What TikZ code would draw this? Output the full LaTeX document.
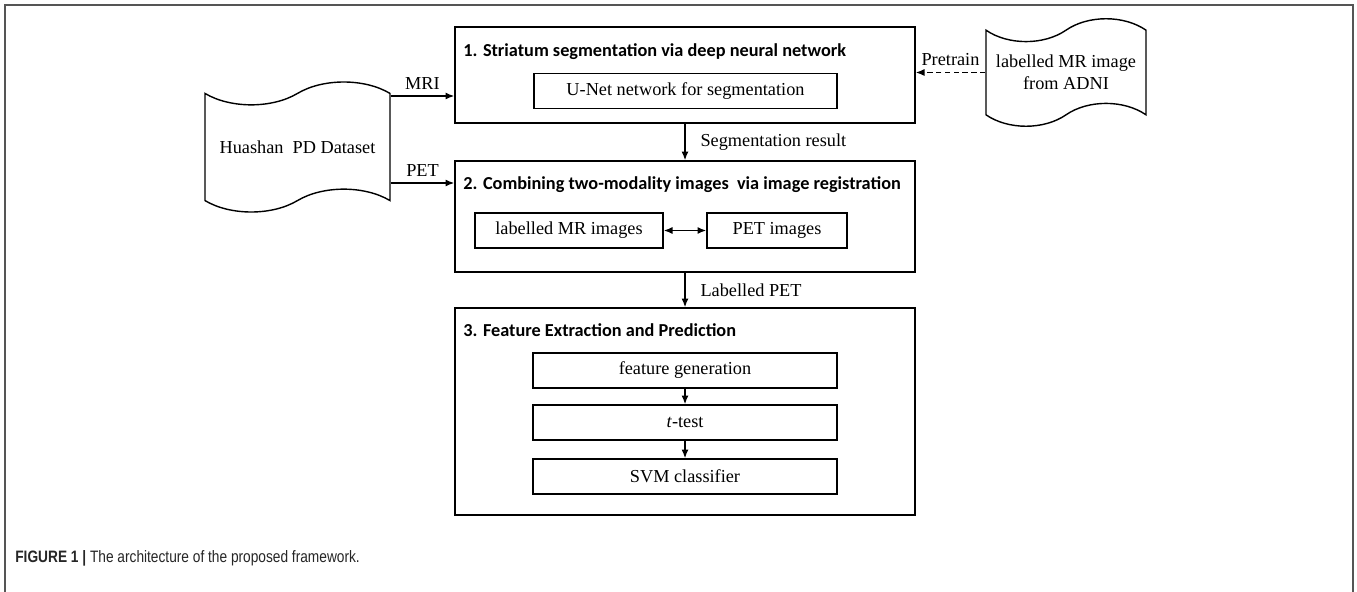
\documentclass[tikz,border=0pt]{standalone}
\usetikzlibrary{shapes,shapes.symbols,arrows.meta,positioning,calc}
\usepackage{fontspec}
\setmainfont{Liberation Serif}
\newfontfamily\headfont{Carlito}
\newfontfamily\capfont{Liberation Sans}[FakeStretch=0.83]
\definecolor{framegray}{HTML}{555555}

\begin{document}
\begin{tikzpicture}[
  every node/.style={font=\fontsize{10.4}{12.5}\selectfont},
  stage/.style={rectangle, draw, line width=0.8pt, minimum width=9.2cm},
  inbox/.style={rectangle, draw, line width=0.8pt, minimum height=0.7cm, inner sep=0pt},
  head/.style={anchor=west, inner sep=0pt, font=\headfont\bfseries\fontsize{10.4}{12}\selectfont},
  store/.style={tape, draw, line width=0.8pt, tape bend top=in and out, tape bend bottom=in and out, tape bend height=13pt, align=center, inner sep=0pt},
  arr/.style={-{Latex[length=5pt,width=4pt]}, line width=0.8pt},
  dbl/.style={{Latex[length=5pt,width=4pt]}-{Latex[length=5pt,width=4pt]}, line width=0.8pt}
]
  \useasboundingbox (0,0) rectangle (27.14,-11.84);
  % frame
  \draw[framegray, line width=1pt] (0.1,-11.84) -- (0.1,-0.1) -- (27.06,-0.1) -- (27.06,-11.84);
  % data sources
  \node[store, minimum width=3.7cm, minimum height=2.6cm] (huashan) at (5.95,-2.94) {Huashan\ \ PD Dataset};
  \node[store, minimum width=3.2cm, minimum height=2.15cm] (adni) at (21.32,-1.45) {labelled MR image\\from ADNI};
  % stage 1
  \node[stage, minimum height=1.92cm] (seg) at (13.7,-1.5) {};
  \node[head] (seghead) at (9.26,-1.04) {1. Striatum segmentation via deep neural network};
  \node[inbox, minimum width=6.06cm] (unet) at (13.71,-1.82) {U-Net network for segmentation};
  % stage 2
  \node[stage, minimum height=2.22cm] (reg) at (13.7,-4.33) {};
  \node[head] (reghead) at (9.26,-3.7) {2. Combining two-modality images\ \ via image registration};
  \node[inbox, minimum width=3.76cm] (mrimg) at (11.38,-4.61) {labelled MR images};
  \node[inbox, minimum width=2.8cm] (petimg) at (15.54,-4.61) {PET images};
  % stage 3
  \node[stage, minimum height=4.14cm] (pred) at (13.7,-8.23) {};
  \node[head] (predhead) at (9.26,-6.6) {3. Feature Extraction and Prediction};
  \node[inbox, minimum width=6.08cm] (featgen) at (13.7,-7.41) {feature generation};
  \node[inbox, minimum width=6.08cm] (ttest) at (13.7,-8.45) {\textit{t}-test};
  \node[inbox, minimum width=6.08cm] (svm) at (13.7,-9.53) {SVM classifier};
  % connectors
  \draw[arr] ([yshift=1.02cm]huashan.east) -- ([yshift=1.02cm]huashan.east -| seg.west) node[midway, above] {MRI};
  \draw[arr] ([yshift=-0.72cm]huashan.east) -- ([yshift=-0.72cm]huashan.east -| reg.west) node[midway, above] {PET};
  \draw[arr, dash pattern=on 3pt off 2pt] (adni.west) -- (adni.west -| seg.east) node[midway, above] {Pretrain};
  \draw[arr] (seg.south) -- (reg.north) node[midway, anchor=west, xshift=0.18cm] {Segmentation result};
  \draw[arr] (reg.south) -- (pred.north) node[midway, anchor=west, xshift=0.18cm] {Labelled PET};
  \draw[dbl] (mrimg) -- (petimg);
  \foreach \a/\b in {featgen/ttest, ttest/svm}
    \draw[arr] (\a) -- (\b);
  % caption
  \node[anchor=west, inner sep=0pt, font=\capfont\fontsize{9.4}{11}\selectfont, black!85] (caption) at (0.3,-11.16) {\textbf{FIGURE 1 |} The architecture of the proposed framework.};
\end{tikzpicture}
\end{document}
